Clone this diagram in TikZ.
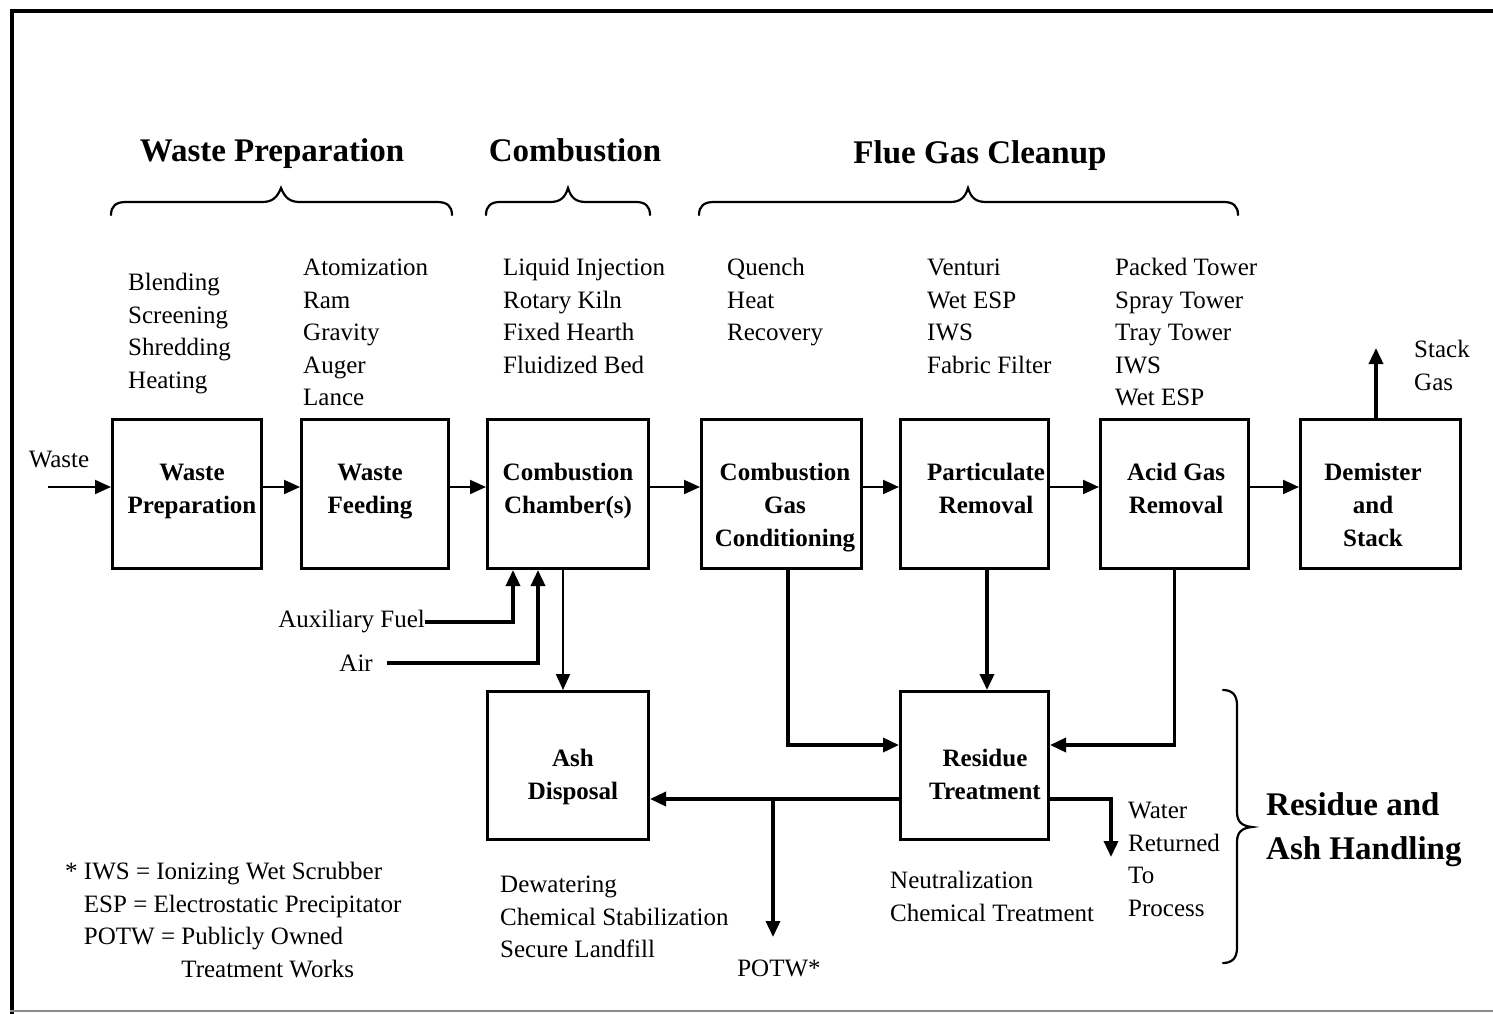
\documentclass[tikz,border=0pt]{standalone}
\usepackage{fontspec}
\setmainfont{Liberation Serif}
\usetikzlibrary{arrows.meta,calc}
\begin{document}
\begin{tikzpicture}[x=1pt,y=-1pt,
  box/.style={draw,line width=3pt,minimum width=#1,minimum height=149pt,inner sep=0pt},
  btxt/.style={inner sep=0pt,align=center,font=\fontsize{25}{33}\selectfont\bfseries},
  lbl/.style={inner sep=0pt,align=left,anchor=north west,font=\fontsize{25}{32.5}\selectfont},
  head/.style={inner sep=0pt,font=\fontsize{33}{44}\selectfont\bfseries},
  tip/.style={-{Triangle[length=16pt,width=14pt]}},
  arrA/.style={line width=2pt,tip},
  arrB/.style={line width=3.5pt,tip},
  brc/.style={line width=2.2pt,line cap=round}]
\useasboundingbox (0,0) rectangle (1493,1014);
\fill[white] (0,0) rectangle (1493,1014);
% frame
\draw[line width=4pt] (12,1014) -- (12,11) -- (1493,11);
\draw[line width=1.5pt,black!45] (10,1011) -- (1493,1011);

% headings
\node[head] (h1) at (272,154) {Waste Preparation};
\node[head] (h2) at (575,150) {Combustion};
\node[head] (h3) at (980,156) {Flue Gas Cleanup};

% braces
\draw[brc] (111,215) .. controls (111,206) and (116,202) .. (126,202) -- (262,202) .. controls (272,202) and (277,198) .. (281,188) .. controls (285,198) and (290,202) .. (300,202) -- (437,202) .. controls (447,202) and (452,206) .. (452,215);
\draw[brc] (486,215) .. controls (486,206) and (491,202) .. (500,202) -- (550,202) .. controls (560,202) and (565,198) .. (568,188) .. controls (571,198) and (576,202) .. (586,202) -- (636,202) .. controls (645,202) and (650,206) .. (650,215);
\draw[brc] (699,215) .. controls (699,206) and (704,202) .. (714,202) -- (950,202) .. controls (960,202) and (965,198) .. (968,188) .. controls (971,198) and (976,202) .. (986,202) -- (1224,202) .. controls (1233,202) and (1238,206) .. (1238,215);
\draw[brc] (1223,690) .. controls (1232,690) and (1237,695) .. (1237,705) -- (1237,812) .. controls (1237,822) and (1242,826) .. (1252,827) .. controls (1242,828) and (1237,832) .. (1237,842) -- (1237,948) .. controls (1237,958) and (1232,963) .. (1223,963);

% upper lists
\node[lbl] (t1) at (128,273) {Blending\\Screening\\Shredding\\Heating};
\node[lbl] (t2) at (303,259) {Atomization\\Ram\\Gravity\\Auger\\Lance};
\node[lbl] (t3) at (503,258) {Liquid Injection\\Rotary Kiln\\Fixed Hearth\\Fluidized Bed};
\node[lbl] (t4) at (727,258) {Quench\\Heat\\Recovery};
\node[lbl] (t5) at (927,259) {Venturi\\Wet ESP\\IWS\\Fabric Filter};
\node[lbl] (t6) at (1115,258) {Packed Tower\\Spray Tower\\Tray Tower\\IWS\\Wet ESP};
\node[lbl] (t7) at (1414,340) {Stack\\Gas};

% boxes
\node[box=149pt] (b1) at (187,494) {};
\node[box=147pt] (b2) at (375,494) {};
\node[box=161pt] (b3) at (568,494) {};
\node[box=160pt] (b4) at (781.5,494) {};
\node[box=148pt] (b5) at (974.5,494) {};
\node[box=148pt] (b6) at (1174.5,494) {};
\node[box=160pt] (b7) at (1380.5,494) {};
\node[box=161pt,minimum height=148pt] (ash) at (568,765.5) {};
\node[box=148pt,minimum height=148pt] (res) at (974.5,765.5) {};

% box texts
\node[btxt] (b1t) at (192,491) {Waste\\Preparation};
\node[btxt] (b2t) at (370,492) {Waste\\Feeding};
\node[btxt] (b3t) at (568,491) {Combustion\\Chamber(s)};
\node[btxt] (b4t) at (785,508) {Combustion\\Gas\\Conditioning};
\node[btxt] (b5t) at (986,488) {Particulate\\Removal};
\node[btxt] (b6t) at (1176,488) {Acid Gas\\Removal};
\node[btxt] (b7t) at (1373,505) {Demister\\and\\Stack};
\node[btxt] (asht) at (573,777) {Ash\\Disposal};
\node[btxt] (rest) at (985,774) {Residue\\Treatment};

% side labels
\node[inner sep=0pt,font=\fontsize{25}{32.5}\selectfont] (wl) at (59,459) {Waste};
\coordinate (win) at (48,487);
\node[inner sep=0pt,anchor=east,font=\fontsize{25}{32.5}\selectfont] (aux) at (425,622) {Auxiliary Fuel};
\node[inner sep=0pt,anchor=east,font=\fontsize{25}{32.5}\selectfont] (air) at (373,663) {Air};
\coordinate (airs) at (387,663);
\coordinate (stk) at (1376,348);
\coordinate (br) at (773,799);
\coordinate (pend) at (773,937);
\coordinate (wend) at (1111,857);
\node[inner sep=0pt,font=\fontsize{25}{32.5}\selectfont] (potw) at (779,968) {POTW*};
\node[lbl] (wt) at (1128,802) {Water\\Returned\\To\\Process};
\node[inner sep=0pt,align=left,anchor=north west,font=\fontsize{33}{44}\selectfont\bfseries] (rah) at (1266,792) {Residue and\\Ash Handling};

% lower lists
\node[lbl] (t8) at (500,876) {Dewatering\\Chemical Stabilization\\Secure Landfill};
\node[lbl] (t9) at (890,871) {Neutralization\\Chemical Treatment};
\node[lbl] (fn) at (65,862) {* IWS = Ionizing Wet Scrubber\\\hphantom{* }ESP = Electrostatic Precipitator\\\hphantom{* }POTW = Publicly Owned\\\hphantom{* POTW = }Treatment Works};

% top row connectors
\draw[arrA] (win) -- ([yshift=7pt]b1.west);
\draw[arrA] ([yshift=7pt]b1.east) -- ([yshift=7pt]b2.west);
\draw[arrA] ([yshift=7pt]b2.east) -- ([yshift=7pt]b3.west);
\draw[arrA] ([yshift=7pt]b3.east) -- ([yshift=7pt]b4.west);
\draw[arrA] ([yshift=7pt]b4.east) -- ([yshift=7pt]b5.west);
\draw[arrA] ([yshift=7pt]b5.east) -- ([yshift=7pt]b6.west);
\draw[arrA] ([yshift=7pt]b6.east) -- ([yshift=7pt]b7.west);
\draw[arrB] ([xshift=-4.5pt]b7.north) -- (stk);

% feeds into combustion chamber
\draw[arrB] (aux.east) -| ([xshift=-55pt]b3.south);
\draw[arrB] (airs) -| ([xshift=-30pt]b3.south);
\draw[arrA] ([xshift=-5pt]b3.south) -- ([xshift=-5pt]ash.north);

% residue connectors
\draw[arrB] ([xshift=6.5pt]b4.south) |- ([yshift=20.5pt]res.west);
\draw[arrB] ([xshift=12.5pt]b5.south) -- ([xshift=12.5pt]res.north);
\draw[arrB] (b6.south) |- ([yshift=20.5pt]res.east);
\draw[arrB] ([yshift=-33.5pt]res.west) -- ([yshift=-33.5pt]ash.east);
\draw[arrB] (br) -- (pend);
\draw[arrB] ([yshift=-33.5pt]res.east) -| (wend);
\end{tikzpicture}
\end{document}
